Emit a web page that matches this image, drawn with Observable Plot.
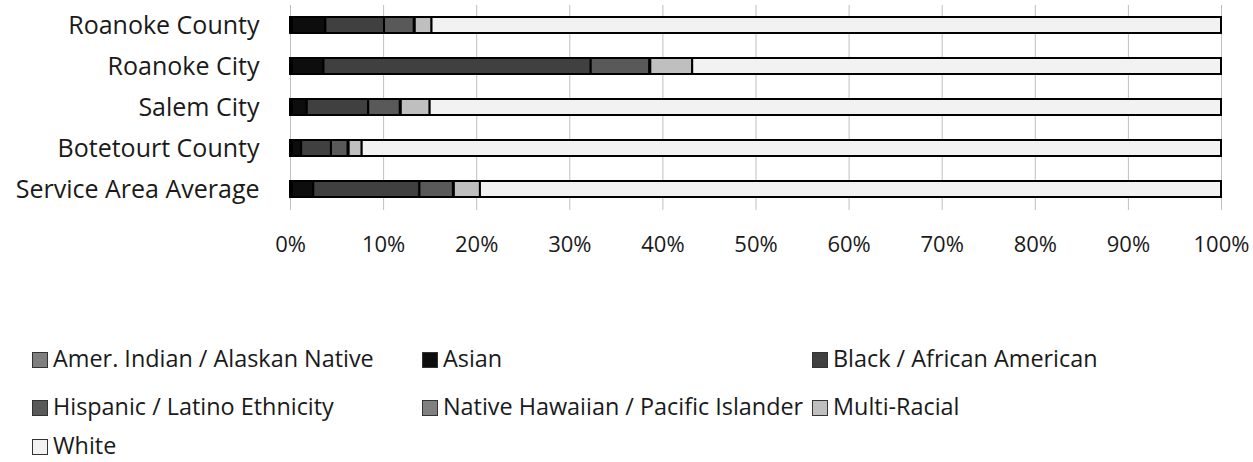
<!DOCTYPE html>
<html>
<head>
<meta charset="utf-8">
<script src="https://cdn.jsdelivr.net/npm/d3@7"></script>
<script src="https://cdn.jsdelivr.net/npm/@observablehq/plot@0.6"></script>
<style>
  html, body { margin: 0; padding: 0; background: #fff; }
  body { width: 1253px; height: 462px; position: relative; overflow: hidden; font-family: "Open Sans", Lato, sans-serif; }
  #chart { position: absolute; left: 0; top: 0; }
  .leg { position: absolute; font-size: 23.4px; color: #1a1a1a; white-space: nowrap; line-height: 22px; }
  .sw { display: inline-block; width: 16px; height: 16px; border: 1.5px solid #333; vertical-align: -1px; margin-right: 5px; box-sizing: border-box; }
</style>
</head>
<body>
<div id="chart"></div>
<div id="legend"></div>
<script>
const categories = ["Roanoke County", "Roanoke City", "Salem City", "Botetourt County", "Service Area Average"];
const series = ["Amer. Indian / Alaskan Native", "Asian", "Black / African American", "Hispanic / Latino Ethnicity", "Native Hawaiian / Pacific Islander", "Multi-Racial", "White"];
const colors = ["#7f7f7f", "#0d0d0d", "#404040", "#595959", "#808080", "#bfbfbf", "#f2f2f2"];
const amerIndian = [0.2, 0.2, 0.2, 0.2, 0.2];
const asian = [3.6, 3.4, 1.6, 1.0, 2.3];
const black = [6.3, 28.7, 6.6, 3.2, 11.4];
const hispanic = [3.2, 6.3, 3.4, 1.8, 3.6];
const nativeHawaiian = [0.1, 0.1, 0.1, 0.1, 0.1];
const multiRacial = [1.8, 4.5, 3.1, 1.4, 2.8];
const white = [84.8, 56.8, 85.0, 92.3, 79.6];
const tickLabels = ["0%", "10%", "20%", "30%", "40%", "50%", "60%", "70%", "80%", "90%", "100%"];

const seriesValues = [amerIndian, asian, black, hispanic, nativeHawaiian, multiRacial, white];
const data = [];
categories.forEach((c, i) => {
  series.forEach((s, j) => data.push({category: c, race: s, value: seriesValues[j][i]}));
});

const ticks = d3.range(0, 101, 10);
const chart = Plot.plot({
  width: 1253,
  height: 275,
  marginLeft: 290,
  marginRight: 32,
  marginTop: 5,
  marginBottom: 65,
  style: {fontFamily: "'Open Sans', Lato, sans-serif", fontSize: "22px", color: "#1a1a1a", background: "#fff"},
  x: {domain: [0, 100], label: null},
  y: {domain: categories, paddingInner: 0.6, paddingOuter: 0.3, label: null},
  color: {domain: series, range: colors},
  marks: [
    Plot.gridX(ticks, {stroke: "#bfbfbf", strokeOpacity: 1, strokeWidth: 1}),
    Plot.ruleY([0], {frameAnchor: "bottom", stroke: "#bfbfbf", strokeWidth: 1}),
    Plot.barX(data, Plot.stackX({x: "value", y: "category", fill: "race", order: series, stroke: "#000", strokeWidth: 2})),
    Plot.axisX(ticks, {tickSize: 0, tickPadding: 26, tickFormat: (d, i) => tickLabels[i], fontSize: 22, fill: "#1a1a1a"}),
    Plot.axisY({tickSize: 0, tickPadding: 31, fontSize: 25, fill: "#1a1a1a"})
  ]
});
document.getElementById("chart").appendChild(chart);

const legendPos = [
  [32, 347], [422, 347], [812, 347],
  [32, 395], [422, 395], [812, 395],
  [32, 434]
];
const legend = document.getElementById("legend");
series.forEach((s, j) => {
  const d = document.createElement("div");
  d.className = "leg";
  d.style.left = legendPos[j][0] + "px";
  d.style.top = legendPos[j][1] + "px";
  const sw = document.createElement("span");
  sw.className = "sw";
  sw.style.background = colors[j];
  d.appendChild(sw);
  d.appendChild(document.createTextNode(s));
  legend.appendChild(d);
});
</script>
</body>
</html>
